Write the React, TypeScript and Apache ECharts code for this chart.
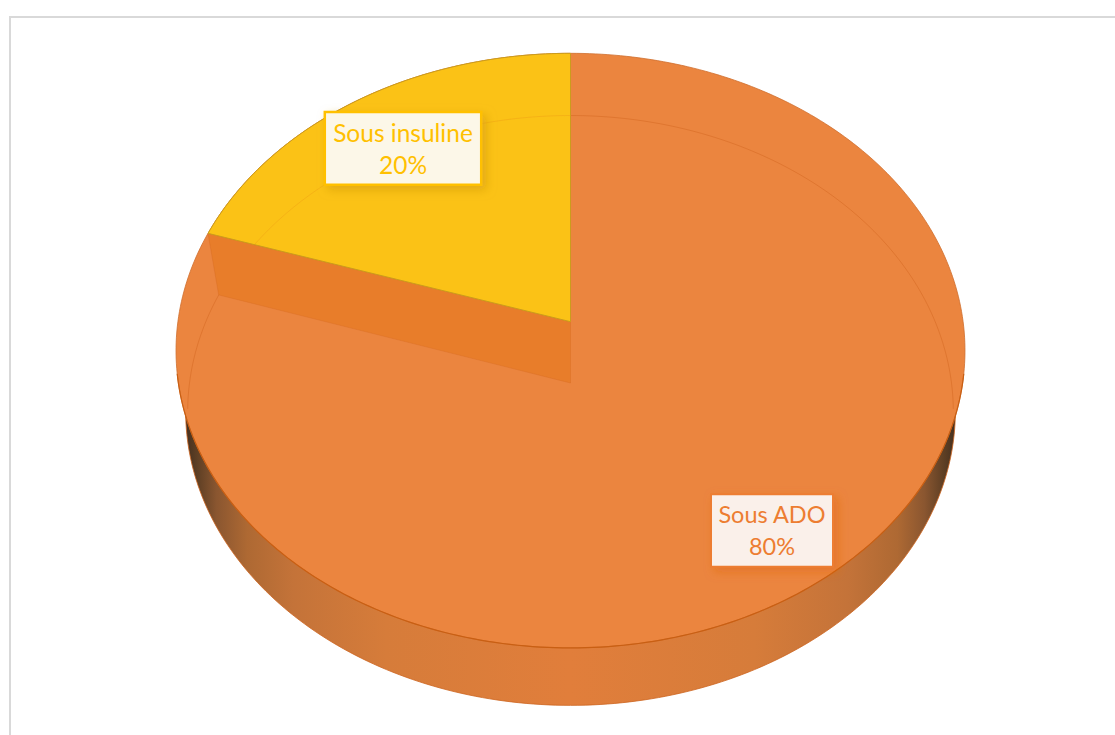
import React, { useEffect, useRef } from "react";
import * as echarts from "echarts";

// Share of patients by treatment, clockwise from twelve o'clock.
const categories = ["Sous ADO", "Sous insuline"];
const values = [80, 20];
const sliceColors = ["#EB853F", "#FBC216"];
const labelColors = ["#ED7D31", "#FFC000"];
const labelShadows = ["rgba(225,105,25,0.55)", "rgba(205,150,10,0.55)"];

// Disk projection: u runs right, v runs away from the viewer; farther points shrink by 1 + k * v.
const PERSPECTIVE = 0.0973;
const CENTER_X = 570.5;
const raised = { cy: 321.7, rx: 392.6, ry: 294.5 };
const sunken = { cy: 383, rx: 381, ry: 293.5 };
const rim = { cy: 383, rx: 383, ry: 291 };

const labelBoxes = [
  { x: 711, y: 494.3, width: 122, height: 72.4, lineWidth: 2, fill: "#FAF0EA", textY: 530, fontSize: 23.5 },
  { x: 324.8, y: 111.9, width: 156.4, height: 72.8, lineWidth: 2.5, fill: "#FCF7E8", textY: 148, fontSize: 24.5 },
];

type Disk = { cy: number; rx: number; ry: number };

function project(disk: Disk, degrees: number): number[] {
  const t = (degrees * Math.PI) / 180;
  const u = Math.sin(t);
  const v = Math.cos(t);
  const w = 1 + PERSPECTIVE * v;
  return [CENTER_X + (disk.rx * u) / w, disk.cy - (disk.ry * v) / w];
}

function arcPoints(disk: Disk, from: number, to: number): number[][] {
  const steps = Math.max(2, Math.ceil(Math.abs(to - from)));
  const points: number[][] = [];
  for (let i = 0; i <= steps; i++) {
    points.push(project(disk, from + ((to - from) * i) / steps));
  }
  return points;
}

const total = values.reduce((a, b) => a + b, 0);

function sliceAngles(index: number): [number, number] {
  const before = values.slice(0, index).reduce((a, b) => a + b, 0);
  return [(before / total) * 360, ((before + values[index]) / total) * 360];
}

const sideGradient = new echarts.graphic.LinearGradient(0, 0, 1, 0, [
  { offset: 0, color: "#45301F" },
  { offset: 0.015, color: "#5E3F24" },
  { offset: 0.04, color: "#8A5630" },
  { offset: 0.08, color: "#AE6933" },
  { offset: 0.14, color: "#C47339" },
  { offset: 0.26, color: "#D67C3A" },
  { offset: 0.5, color: "#E17E3B" },
  { offset: 0.74, color: "#D67C3A" },
  { offset: 0.86, color: "#C47339" },
  { offset: 0.925, color: "#AE6933" },
  { offset: 0.96, color: "#8A5630" },
  { offset: 0.985, color: "#5E3F24" },
  { offset: 1, color: "#45301F" },
]);

function labelElements(index: number, value: number) {
  const box = labelBoxes[index];
  return [
    {
      type: "rect",
      shape: { x: box.x, y: box.y, width: box.width, height: box.height },
      style: {
        fill: box.fill,
        stroke: labelColors[index],
        lineWidth: box.lineWidth,
        shadowBlur: 10,
        shadowOffsetX: 4,
        shadowOffsetY: 4,
        shadowColor: labelShadows[index],
      },
    },
    {
      type: "text",
      style: {
        text: `${categories[index]}\n${Math.round((value / total) * 100)}%`,
        x: box.x + box.width / 2,
        y: box.textY,
        align: "center",
        verticalAlign: "middle",
        fill: labelColors[index],
        font: `${box.fontSize}px Lato, "Noto Sans", sans-serif`,
        lineHeight: 32,
      },
    },
  ];
}

function renderSlice(params: any, api: any) {
  const index = params.dataIndex;
  const [start, end] = sliceAngles(index);
  const children: any[] = [];

  if (index === 0) {
    // Thick rim of the pie, then the face of the large slice with the sunken circle on it.
    children.push({
      type: "polygon",
      shape: { points: arcPoints(rim, 0, 360) },
      style: { fill: sideGradient, stroke: "rgba(205,100,30,0.8)", lineWidth: 1 },
    });
    children.push({
      type: "polygon",
      shape: { points: arcPoints(raised, 0, 360) },
      style: { fill: sliceColors[index], stroke: "rgba(208,110,45,0.8)", lineWidth: 1 },
    });
    // The front edge of the face reads darker against the rim.
    children.push({
      type: "polyline",
      shape: { points: arcPoints(raised, 100, 260) },
      style: { fill: "none", stroke: "#C95F13", lineWidth: 1.2 },
    });
    children.push({
      type: "polyline",
      shape: { points: arcPoints(sunken, start, start + 95) },
      style: { fill: "none", stroke: "rgba(205,95,25,0.4)", lineWidth: 1 },
    });
    children.push({
      type: "polyline",
      shape: { points: arcPoints(sunken, end, end - 23) },
      style: { fill: "none", stroke: "rgba(205,95,25,0.4)", lineWidth: 1 },
    });
  } else {
    // Wall dropping from the raised slice down to the sunken face, then the slice itself.
    children.push({
      type: "polygon",
      shape: {
        points: [
          project(raised, start),
          [CENTER_X, raised.cy],
          [CENTER_X, sunken.cy],
          project(sunken, start),
        ],
      },
      style: { fill: "#E87D2A", stroke: "rgba(205,95,25,0.3)", lineWidth: 0.8 },
    });
    children.push({
      type: "polygon",
      shape: { points: [[CENTER_X, raised.cy], ...arcPoints(raised, start, end)] },
      style: { fill: sliceColors[index], stroke: "#CB9C1C", lineWidth: 1 },
    });
    children.push({
      type: "polyline",
      shape: { points: arcPoints(sunken, start + 11.5, end) },
      style: { fill: "none", stroke: "rgba(235,150,20,0.35)", lineWidth: 1 },
    });
  }
  return { type: "group", children };
}

function renderLabels(params: any, api: any) {
  return {
    type: "group",
    children: labelElements(params.dataIndex, api.value(0)),
  };
}

export default function App() {
  const ref = useRef<HTMLDivElement>(null);

  useEffect(() => {
    document.body.style.margin = "0";
    const chart = echarts.init(ref.current!, undefined, { renderer: "svg" });
    chart.setOption({
      animation: false,
      backgroundColor: "#FFFFFF",
      graphic: [
        {
          type: "rect",
          shape: { x: 10, y: 17, width: 1300, height: 900 },
          style: { fill: "none", stroke: "#D9D9D9", lineWidth: 2 },
          silent: true,
        },
      ],
      series: [
        {
          type: "custom",
          name: "Traitement",
          coordinateSystem: "none",
          data: values.map((v, i) => ({ name: categories[i], value: [v] })),
          renderItem: renderSlice,
          silent: true,
          z: 2,
        },
        {
          type: "custom",
          name: "Étiquettes",
          coordinateSystem: "none",
          data: values.map((v, i) => ({ name: categories[i], value: [v] })),
          renderItem: renderLabels,
          silent: true,
          z: 3,
        },
      ],
    });
    return () => chart.dispose();
  }, []);

  return <div ref={ref} style={{ width: 1115, height: 735 }} />;
}
